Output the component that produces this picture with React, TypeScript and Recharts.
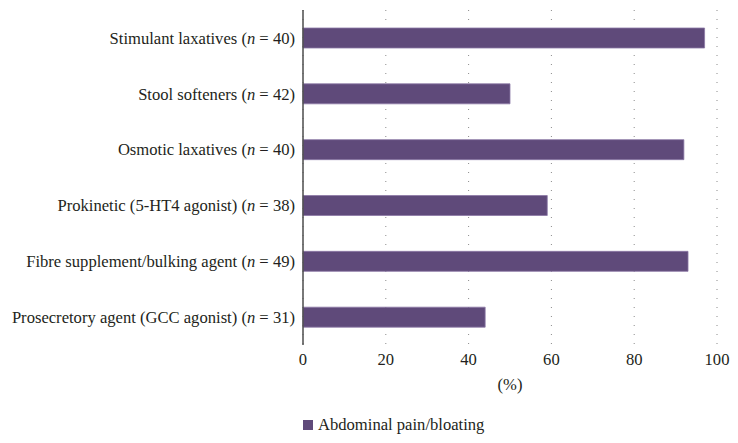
import { BarChart, Bar, XAxis, YAxis, CartesianGrid, Legend } from "recharts"

const categories = [
  "Stimulant laxatives",
  "Stool softeners",
  "Osmotic laxatives",
  "Prokinetic (5-HT4 agonist)",
  "Fibre supplement/bulking agent",
  "Prosecretory agent (GCC agonist)",
]
const sampleSizes = [40, 42, 40, 38, 49, 31]
const painValues = [97, 50, 92, 59, 93, 44]
const xTicks = [0, 20, 40, 60, 80, 100]

const data = categories.map((name, i) => ({
  name,
  n: sampleSizes[i],
  pain: painValues[i],
}))

const FONT = "Liberation Serif, Times New Roman, DejaVu Serif, serif"
const BAR = "#5f4a7a"

// eslint-disable-next-line @typescript-eslint/no-explicit-any
const CategoryTick = ({ x, y, payload, index }: any) => {
  const n = sampleSizes[index] ?? data.find((d) => d.name === payload.value)?.n
  return (
    <text
      x={x}
      y={y}
      dy="0.35em"
      textAnchor="end"
      fill="#231f20"
      fontSize={16.6}
      style={{ fontFamily: FONT }}
    >
      {payload.value} (<tspan fontStyle="italic">n</tspan> = {n})
    </text>
  )
}

const LegendContent = () => (
  <div style={{ position: "relative", height: 30, fontFamily: FONT, fontSize: 16.6, color: "#231f20" }}>
    <span
      style={{
        position: "absolute",
        left: 303,
        top: 10,
        width: 10,
        height: 10,
        background: BAR,
      }}
    />
    <span style={{ position: "absolute", left: 318, top: 5, lineHeight: "20px" }}>Abdominal pain/bloating</span>
  </div>
)

export default function App() {
  return (
    <div style={{ position: "absolute", left: 0, top: 0, background: "#fff", fontFamily: FONT }}>
      <BarChart
        width={738}
        height={443}
        data={data}
        layout="vertical"
        margin={{ top: 10, right: 21, bottom: 3, left: 0 }}
        barSize={20}
        style={{ fontFamily: FONT }}
      >
        <CartesianGrid horizontal={false} stroke="#8a8a8a" strokeDasharray="1 8" />
        <XAxis
          type="number"
          domain={[0, 100]}
          ticks={xTicks}
          axisLine={false}
          tickLine={false}
          height={65}
          tick={{ fill: "#231f20", fontSize: 16.6, style: { fontFamily: FONT } }}
          label={{
            value: "(%)",
            position: "insideBottom",
            offset: 20,
            fill: "#231f20",
            fontSize: 16.6,
            style: { fontFamily: FONT },
          }}
        />
        <YAxis
          type="category"
          dataKey="name"
          width={303}
          axisLine={{ stroke: "#4d4d4d", strokeWidth: 1.5 }}
          tickLine={false}
          tick={<CategoryTick />}
          interval={0}
        />
        <Legend verticalAlign="bottom" height={30} content={<LegendContent />} />
        <Bar
          dataKey="pain"
          name="Abdominal pain/bloating"
          fill={BAR}
          stroke="#8c79a6"
          strokeWidth={0.8}
          isAnimationActive={false}
        />
      </BarChart>
    </div>
  )
}
